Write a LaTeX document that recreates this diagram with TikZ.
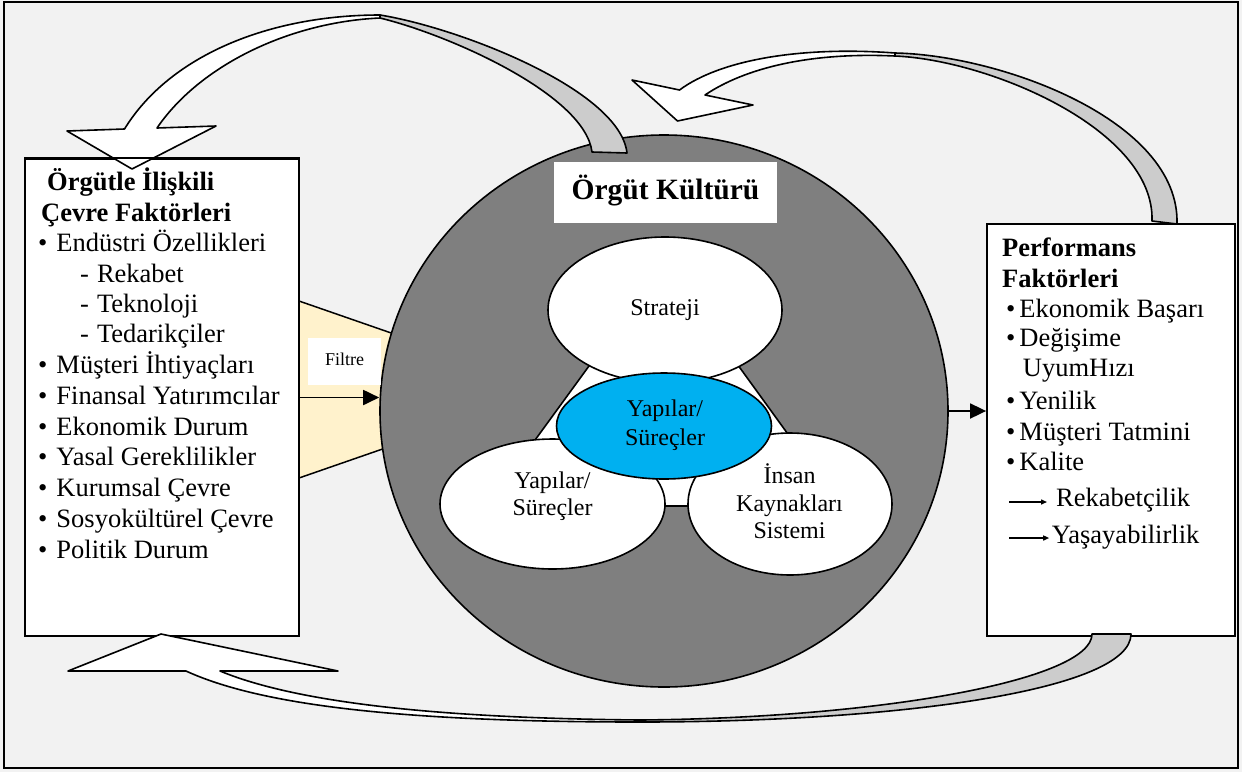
\documentclass[tikz,border=0pt]{standalone}
\usepackage{fontspec}
\setmainfont{Liberation Serif}
\usetikzlibrary{arrows.meta,shapes.geometric}

\definecolor{pagebg}{HTML}{F2F2F2}
\definecolor{coregray}{HTML}{7F7F7F}
\definecolor{ribbongray}{HTML}{CCCCCC}
\definecolor{hubblue}{HTML}{00B0F0}
\definecolor{sieve}{HTML}{FFF2CC}

\begin{document}
\begin{tikzpicture}[x=1pt,y=-1pt,
  outline/.style={draw=black,line width=1.6pt,line join=round},
  panel/.style={rectangle,draw=black,line width=1.8pt,fill=white,inner sep=0pt},
  oval/.style={ellipse,draw=black,line width=1.6pt,fill=white,inner sep=0pt},
  body/.style={font=\fontsize{26.5}{30}\selectfont,anchor=base west,inner sep=0pt},
  head/.style={font=\fontsize{26.5}{30}\selectfont\bfseries,anchor=base west,inner sep=0pt},
  ovaltext/.style={font=\fontsize{24}{27}\selectfont,anchor=base,inner sep=0pt},
  link/.style={line width=1.8pt,-{Triangle[length=16pt,width=15pt]}},
  minilink/.style={line width=1.4pt,-{Triangle[length=6pt,width=5pt]}}
]
\useasboundingbox (0,0) rectangle (1242,772);
% page and frame
\fill[pagebg] (0,0) rectangle (1242,772);
\draw[line width=2pt] (4,2) rectangle (1238,768);

% filter wedge between the environment panel and the culture disc
\fill[sieve] (299,301) -- (420,343) -- (420,436) -- (299,478) -- cycle;
\draw[line width=1.5pt] (299,301) -- (420,343) (299,478) -- (420,436);

% culture disc
\node[ellipse,draw=black,line width=1.6pt,fill=coregray,minimum width=568pt,minimum height=552pt,inner sep=0pt] (culture) at (664,411) {};

% white triangle tying the three components together
\filldraw[fill=white,draw=black,line width=1.6pt,line join=round] (664,263) -- (487,506) -- (840,506) -- cycle;

% components
\node[oval,minimum width=234pt,minimum height=146pt] (strat) at (665,310) {};
\node[oval,minimum width=225pt,minimum height=130pt] (struct) at (552.5,504) {};
\node[oval,minimum width=204pt,minimum height=142pt] (hr) at (790,504) {};
\node[oval,fill=hubblue,minimum width=215pt,minimum height=106pt] (hub) at (664,426) {};

\node[ovaltext] (stratA) at (665,315) {Strateji};
\node[ovaltext] (hubA) at (665,416.7) {Yapılar/};
\node[ovaltext] (hubB) at (665,445) {Süreçler};
\node[ovaltext] (structA) at (552.5,488.3) {Yapılar/};
\node[ovaltext] (structB) at (552.5,515) {Süreçler};
\node[ovaltext] (hrA) at (789.5,483.3) {İnsan};
\node[ovaltext] (hrB) at (789.5,511.7) {Kaynakları};
\node[ovaltext] (hrC) at (789.5,538.3) {Sistemi};

% title of the disc
\node[rectangle,fill=white,minimum width=223pt,minimum height=61pt,inner sep=0pt] (ctitle) at (665.5,192.5) {};
\node[font=\fontsize{29.5}{33}\selectfont\bfseries,anchor=base,inner sep=0pt] (ctitleT) at (665.5,199.3) {Örgüt Kültürü};

% filter label
\node[rectangle,fill=white,minimum width=73pt,minimum height=47pt,inner sep=0pt] (filt) at (344.5,361.5) {};
\node[font=\fontsize{18}{20}\selectfont,anchor=base,inner sep=0pt] (filtT) at (344.5,365) {Filtre};

% side panels
\node[panel,minimum width=274pt,minimum height=477pt] (lbox) at (162,397.5) {};
\node[panel,minimum width=248pt,minimum height=412pt] (rbox) at (1111,430) {};

% connectors
\draw[link] (lbox.east) -- (lbox.east -| culture.west);
\draw[link] (culture.east) -- (culture.east -| rbox.west);

% environment panel text
\node[head] (lt1) at (47,190) {Örgütle İlişkili};
\node[head] (lt2) at (41,221) {Çevre Faktörleri};
\node[body] (l1) at (38,251) {•\hspace{9pt}Endüstri Özellikleri};
\node[body] (l2) at (80,282.5) {-\hspace{8pt}Rekabet};
\node[body] (l3) at (80,312.5) {-\hspace{8pt}Teknoloji};
\node[body] (l4) at (80,342.7) {-\hspace{8pt}Tedarikçiler};
\node[body] (l5) at (38,373) {•\hspace{9pt}Müşteri İhtiyaçları};
\node[body] (l6) at (38,404) {•\hspace{9pt}Finansal Yatırımcılar};
\node[body] (l7) at (38,435) {•\hspace{9pt}Ekonomik Durum};
\node[body] (l8) at (38,465.5) {•\hspace{9pt}Yasal Gereklilikler};
\node[body] (l9) at (38,496.5) {•\hspace{9pt}Kurumsal Çevre};
\node[body] (l10) at (38,527) {•\hspace{9pt}Sosyokültürel Çevre};
\node[body] (l11) at (38,558) {•\hspace{9pt}Politik Durum};

% performance panel text
\node[head] (rt1) at (1002,256.7) {Performans};
\node[head] (rt2) at (1002,287) {Faktörleri};
\node[body] (r1) at (1006,317.3) {•\hspace{4pt}Ekonomik Başarı};
\node[body] (r2) at (1006,346.7) {•\hspace{4pt}Değişime};
\node[body] (r3) at (1022.7,376.7) {UyumHızı};
\node[body] (r4) at (1006,409) {•\hspace{4pt}Yenilik};
\node[body] (r5) at (1006,440) {•\hspace{4pt}Müşteri Tatmini};
\node[body] (r6) at (1006,470) {•\hspace{4pt}Kalite};
\node[body] (r7) at (1056,506.7) {Rekabetçilik};
\node[body] (r8) at (1051.7,543) {Yaşayabilirlik};
\coordinate (r7s) at (1009,502);
\coordinate (r8s) at (1009,538);
\draw[minilink] (r7s) -- ([xshift=-9pt]r7.west |- r7s);
\draw[minilink] (r8s) -- ([xshift=-2.5pt]r8.west |- r8s);

% feedback ribbon: disc -> environment panel
\filldraw[fill=ribbongray,outline] (380,15) .. controls (460,28) and (620,90) .. (627,153)
  -- (592,152) .. controls (585,95) and (450,35) .. (380,18) -- cycle;
\filldraw[fill=white,outline] (124.5,129) -- (67,131) -- (132,169) -- (216,126) -- (157,128)
  .. controls (200,65) and (290,22) .. (380,18) -- (380,15)
  .. controls (270,15) and (170,55) .. (124.5,129) -- cycle;
\draw[line width=1.8pt] (lbox.north west) -- (lbox.north east);

% feedback ribbon: performance panel -> disc
\filldraw[fill=ribbongray,outline] (895,53) .. controls (1000,55) and (1180,120) .. (1177,224)
  -- (1152,221) .. controls (1155,130) and (990,60) .. (895,56) -- cycle;
\filldraw[fill=white,outline] (679.5,90) -- (632,80) -- (677.5,121) -- (753,105) -- (705,95)
  .. controls (745,68) and (810,52) .. (895,56) -- (895,53)
  .. controls (800,46) and (720,60) .. (679.5,90) -- cycle;

% feedback ribbon: performance panel -> environment panel (below)
\filldraw[fill=ribbongray,outline] (1092,634) -- (1131,634) .. controls (1131,690) and (900,722) .. (640,722)
  -- (640,720) .. controls (880,718) and (1092,680) .. (1092,634) -- cycle;
\filldraw[fill=white,outline] (68,671) -- (161,634) -- (338,671) -- (220,671)
  .. controls (290,700) and (420,718) .. (640,720) -- (640,722)
  .. controls (400,722) and (260,705) .. (186,671) -- cycle;
\end{tikzpicture}
\end{document}
